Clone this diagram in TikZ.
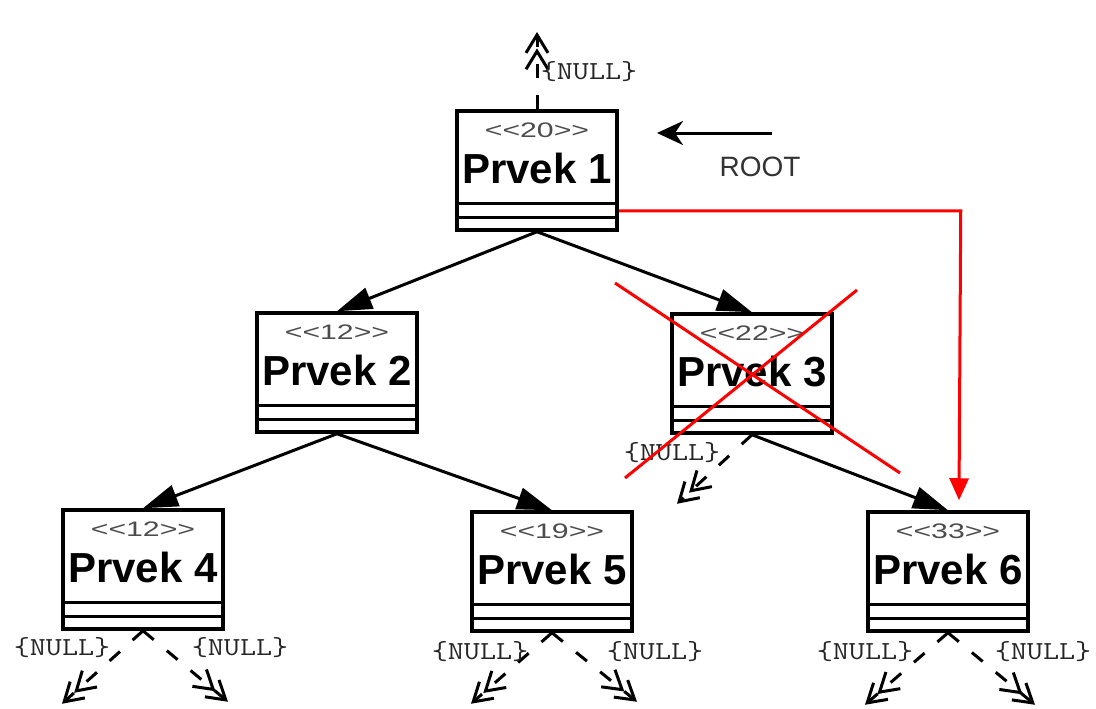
\documentclass[tikz,border=0pt]{standalone}
\usepackage{fontspec}
\setmainfont{Liberation Sans}
\usetikzlibrary{arrows.meta,calc,backgrounds}
\tikzset{
 umlbox/.style={draw, line width=3.5pt, fill=white, minimum width=160pt, minimum height=119pt, inner sep=0pt},
 sepline/.style={line width=3pt},
 treeedge/.style={line width=3pt, -{Triangle[length=35pt,width=22pt]}},
 nullconn/.style={line width=3pt, dash pattern=on 14pt off 17pt,
   -{Straight Barb[length=18pt,width=22pt,line width=3pt,sep=-6pt] Straight Barb[length=18pt,width=22pt,line width=3pt]}},
 nulllabel/.style={font=\ttfamily\fontsize{26}{30}\selectfont, text=black!85, inner sep=0pt},
 stereo/.style={font=\fontsize{21}{24}\selectfont, text=black!70, inner sep=0pt},
 pname/.style={font=\bfseries\fontsize{42}{48}\selectfont, inner sep=0pt},
 redline/.style={red, line width=3pt},
}
\newcommand\nulltxt{\scalebox{1.2}[1]{\{NULL\}}}
\newcommand\umlcls[5]{%
 \node[umlbox] (#1) at (#2,#3+59.5) {};
 \draw[sepline] ([yshift=28pt]#1.south west) -- ([yshift=28pt]#1.south east);
 \draw[sepline] ([yshift=14pt]#1.south west) -- ([yshift=14pt]#1.south east);
 \node[stereo] (#1s) at ([yshift=-21pt]#1.north) {\scalebox{1.44}[1]{<\kern0pt<#4>\kern0pt>}};
 \node[pname] (#1n) at ([yshift=-59pt]#1.north) {Prvek #5};
}
\begin{document}
\begin{tikzpicture}[x=1pt,y=-1pt]
\useasboundingbox (0,0) rectangle (1096,709);
\umlcls{b1}{537}{111}{20}{1}
\umlcls{b2}{337}{313}{12}{2}
\umlcls{b3}{752}{314}{22}{3}
\umlcls{b4}{143}{510}{12}{4}
\umlcls{b5}{552}{512}{19}{5}
\umlcls{b6}{948}{512}{33}{6}
\begin{scope}[on background layer]
 \draw[treeedge] (b1.south) -- (b2.north);
 \draw[treeedge] (b1.south) -- (b3.north);
 \draw[treeedge] (b2.south) -- (b4.north);
 \draw[treeedge] (b2.south) -- (b5.north);
 \draw[treeedge] (b3.south) -- (b6.north);
\end{scope}
% NULL connectors
\coordinate (n1) at (537,32);
\coordinate (n3) at ($(b3.south)+(-75,69)$);
\coordinate (n4l) at ($(b4.south)+(-81,73)$);
\coordinate (n4r) at ($(b4.south)+(85,71)$);
\coordinate (n5l) at ($(b5.south)+(-81,71)$);
\coordinate (n5r) at ($(b5.south)+(85,69)$);
\coordinate (n6l) at ($(b6.south)+(-83,72)$);
\coordinate (n6r) at ($(b6.south)+(87,72)$);
\draw[nullconn] (b1.north) -- (n1);
\draw[nullconn] (b3.south) -- (n3);
\draw[nullconn] (b4.south) -- (n4l);
\draw[nullconn] (b4.south) -- (n4r);
\draw[nullconn] (b5.south) -- (n5l);
\draw[nullconn] (b5.south) -- (n5r);
\draw[nullconn] (b6.south) -- (n6l);
\draw[nullconn] (b6.south) -- (n6r);
\node[nulllabel] (l1) at (589,72) {\nulltxt};
\node[nulllabel] (l3) at (672,453) {\nulltxt};
\node[nulllabel] (l4l) at (62,648) {\nulltxt};
\node[nulllabel] (l4r) at (240,648) {\nulltxt};
\node[nulllabel] (l5l) at (480,652) {\nulltxt};
\node[nulllabel] (l5r) at (655,652) {\nulltxt};
\node[nulllabel] (l6l) at (865,652) {\nulltxt};
\node[nulllabel] (l6r) at (1043,652) {\nulltxt};
% ROOT
\coordinate (roottail) at (772,133);
\coordinate (roottip) at (657,133);
\draw[line width=3pt,-{Stealth[length=26pt,width=24pt,inset=8pt]}] (roottail) -- (roottip);
\node[font=\fontsize{28}{32}\selectfont, text=black!80, inner sep=0pt] (rootlbl) at (760,167) {ROOT};
% red link
\coordinate (rbend) at ($(b1.south east)+(342,-21)$);
\coordinate (rtip) at ($(b6.north)+(11,-10)$);
\draw[redline,-{Triangle[length=22pt,width=19pt]}] ($(b1.south east)+(0,-21)$) -- (rbend) -- (rtip);
% red cross
\draw[redline] (615,283) -- (900,473);
\draw[redline] (857,290) -- (625,478);
\end{tikzpicture}
\end{document}
